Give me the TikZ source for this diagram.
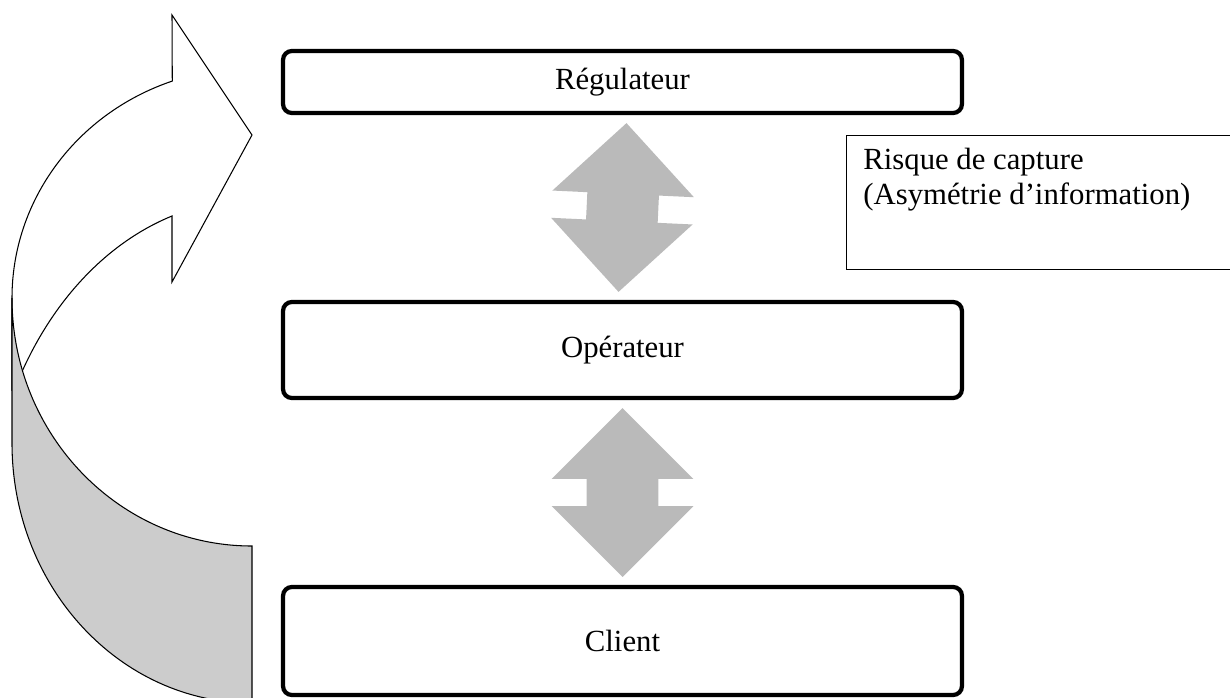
\documentclass[tikz,border=0pt]{standalone}
\usepackage{fontspec}
\setmainfont{Liberation Serif}
\usetikzlibrary{shapes.arrows,calc,positioning}

\definecolor{bandegris}{gray}{0.8}
\definecolor{flechegris}{gray}{0.73}

\tikzset{
  acteur/.style={draw, line width=2.4pt, rounded corners=5pt, minimum width=13.58cm, inner sep=0pt},
  lien/.style={double arrow, fill=flechegris, draw=none, inner xsep=0pt, inner ysep=0.71cm,
               minimum height=3.38cm, minimum width=2.82cm, double arrow head extend=0.7cm,
               double arrow tip angle=90},
  courbe/.style={line width=0.6pt, draw=black}
}

\begin{document}
\begin{tikzpicture}[x=0.02cm, y=-0.02cm, font=\fontsize{17.5}{20}\selectfont]
  \useasboundingbox (0,0) rectangle (1230,697);

  \node[acteur, minimum height=1.24cm] (reg) at (622.5,82)  {Régulateur};
  \node[acteur, minimum height=1.92cm] (op)  at (622.5,350) {Opérateur};
  \node[acteur, minimum height=2.16cm] (cli) at (622.5,641) {Client};

  \node[lien, rotate=87.3] (ar1) at ($(reg.south)!0.5!(op.north)$) {};
  \node[lien, rotate=90]   (ar2) at ($(op.south)!0.5!(cli.north)$) {};

  \node[draw, line width=0.8pt, anchor=north west, minimum width=7.9cm, minimum height=2.68cm]
        (risque) at (846,135) {};
  \node[anchor=north west, align=left, inner sep=0pt] (risquetxt) at ($(risque.north west)+(17,13)$)
        {Risque de capture\\(Asymétrie d’information)};

  % fleche courbe de retour
  \filldraw[courbe, fill=white] (12,298) arc[start angle=180, end angle=250.6, x radius=240, y radius=230]
     -- (172,15) -- (252,135) -- (172,282) -- (172,216)
     arc[start angle=252.5, end angle=207, x radius=266, y radius=345] -- (12,390) -- cycle;
  \filldraw[courbe, fill=bandegris] (12,298) arc[start angle=180, end angle=90, x radius=240, y radius=248]
     -- (252,703) arc[start angle=90, end angle=180, x radius=240, y radius=260] -- cycle;
\end{tikzpicture}
\end{document}
